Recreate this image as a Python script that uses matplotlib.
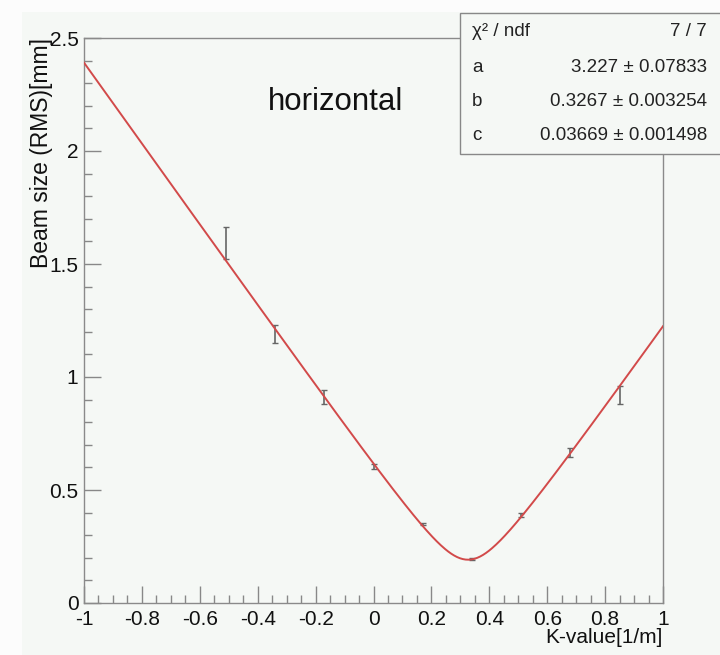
import numpy as np
import matplotlib
matplotlib.use("Agg")
import matplotlib.pyplot as plt
from matplotlib.patches import Rectangle
from matplotlib.ticker import MultipleLocator, FuncFormatter

plt.rcParams["font.family"] = ["Liberation Sans", "DejaVu Sans"]
plt.rcParams["axes.unicode_minus"] = False

# measured beam size vs quadrupole K-value
k_values = [-0.51, -0.34, -0.17, 0.0, 0.17, 0.34, 0.51, 0.68, 0.85]
beam_size = [1.593, 1.190, 0.912, 0.603, 0.350, 0.195, 0.389, 0.668, 0.919]
beam_err = [0.072, 0.040, 0.030, 0.012, 0.006, 0.004, 0.008, 0.020, 0.040]

# fit result: sqrt(a*(K-b)^2 + c)
fit_names = ["a", "b", "c"]
fit_vals = [3.227, 0.3267, 0.03669]
fit_errs = ["0.07833", "0.003254", "0.001498"]
fit_val_text = ["3.227", "0.3267", "0.03669"]
chi2_text = "7 / 7"

bg = "#f5f8f5"
fig = plt.figure(figsize=(7.2, 6.55), dpi=100, facecolor=bg)
# lighter strips from the screenshot border
fig.patches.append(Rectangle((0, 0), 22 / 720, 1, transform=fig.transFigure,
                             facecolor="#fcfcfc", edgecolor="none", zorder=0))
fig.patches.append(Rectangle((0, 1 - 12 / 655), 1, 12 / 655, transform=fig.transFigure,
                             facecolor="#fcfcfc", edgecolor="none", zorder=0))

ax = fig.add_axes([84 / 720, 52 / 655, 579 / 720, 565 / 655])
ax.set_facecolor(bg)

a, b, c = fit_vals
kk = np.linspace(-1, 1, 400)
ax.plot(kk, np.sqrt(a * (kk - b) ** 2 + c), color="#d24a4a", lw=1.4, zorder=3)
ax.errorbar(k_values, beam_size, yerr=beam_err, fmt="none", ecolor="#666666",
            elinewidth=1.2, capsize=2, capthick=1.0, zorder=2)

ax.set_xlim(-1, 1)
ax.set_ylim(0, 2.5)
ax.xaxis.set_major_locator(MultipleLocator(0.2))
ax.xaxis.set_minor_locator(MultipleLocator(0.05))
ax.yaxis.set_major_locator(MultipleLocator(0.5))
ax.yaxis.set_minor_locator(MultipleLocator(0.1))
fmt = FuncFormatter(lambda v, p: "%g" % round(v, 3))
ax.xaxis.set_major_formatter(fmt)
ax.yaxis.set_major_formatter(fmt)
ax.tick_params(which="both", direction="in", color="#888888", top=False, right=False,
               labelsize=15, labelcolor="#111111")
ax.tick_params(which="major", length=12, width=1.0)
ax.tick_params(which="minor", length=6, width=1.0)
ax.tick_params(axis="x", pad=5)
ax.tick_params(axis="y", pad=4)
for s in ax.spines.values():
    s.set_color("#8a8a8a")
    s.set_linewidth(1.0)

ax.set_xlabel("K-value[1/m]", fontsize=15, loc="right", color="#111111")
ax.xaxis.set_label_coords(1.0, -0.045)
ax.set_ylabel("Beam size (RMS)[mm]", fontsize=16.5, loc="top", color="#111111")
ax.yaxis.set_label_coords(-0.054, 1.0)

ax.text(0.318, 0.887, "horizontal", transform=ax.transAxes, fontsize=22.5,
        color="#111111", ha="left", va="center")

# stats box
fig.patches.append(Rectangle((460 / 720, 1 - 154 / 655), 270 / 720, 141 / 655,
                             transform=fig.transFigure, facecolor=bg,
                             edgecolor="#888888", lw=1.0, zorder=5))
rows = [("\u03c7\u00b2 / ndf", chi2_text)]
for n, v, e in zip(fit_names, fit_val_text, fit_errs):
    rows.append((n, v + " \u00b1 " + e))
row_y = [32, 67, 102, 136]
for (lab, val), yy in zip(rows, row_y):
    fig.text(472 / 720, 1 - yy / 655, lab, fontsize=13.5, color="#222222",
             ha="left", va="center", zorder=6)
    fig.text(707 / 720, 1 - yy / 655, val, fontsize=13.5, color="#222222",
             ha="right", va="center", zorder=6)

fig.savefig("out.png", dpi=100, facecolor=bg)
